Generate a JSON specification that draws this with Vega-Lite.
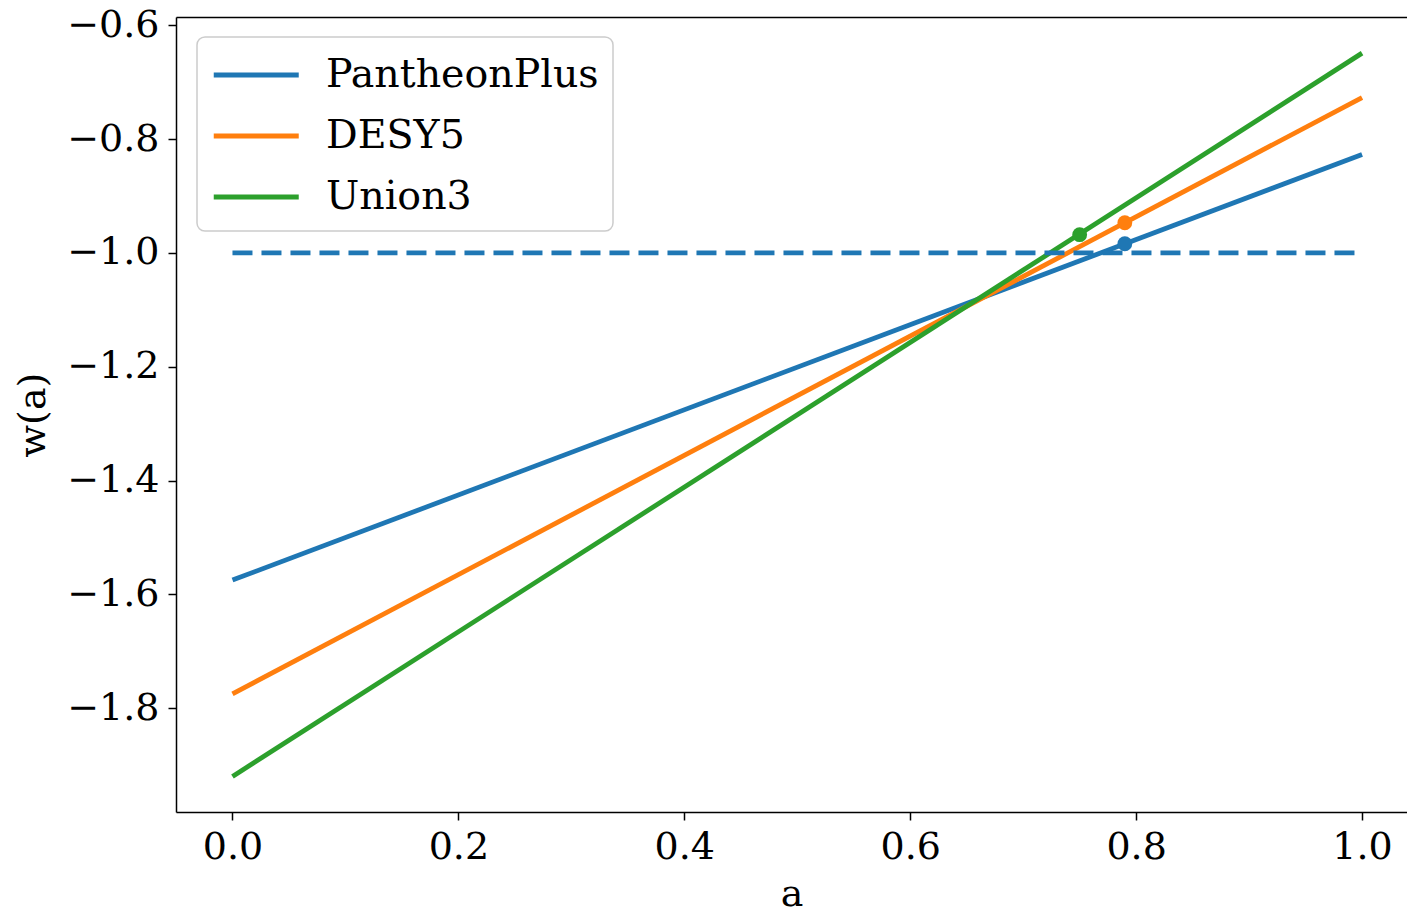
{
  "$schema": "https://vega.github.io/schema/vega-lite/v6.json",
  "width": 1231,
  "height": 795,
  "autosize": {"type": "none"},
  "padding": {"left": 176, "top": 17, "right": 0, "bottom": 101},
  "background": "white",
  "config": {
    "view": {"stroke": null},
    "font": "DejaVu Serif",
    "axis": {
      "grid": false,
      "domainColor": "black",
      "domainWidth": 1.5,
      "tickColor": "black",
      "tickWidth": 1.5,
      "tickSize": 8,
      "labelFont": "DejaVu Serif",
      "labelFontSize": 38,
      "labelColor": "black",
      "titleFont": "DejaVu Serif",
      "titleFontSize": 38,
      "titleFontWeight": "normal",
      "titleColor": "black"
    },
    "legend": {
      "orient": "none",
      "legendX": 21,
      "legendY": 20,
      "padding": 14,
      "strokeColor": "#cccccc",
      "strokeWidth": 1.5,
      "cornerRadius": 8,
      "fillColor": "rgba(255,255,255,0.8)",
      "labelFont": "DejaVu Serif",
      "labelFontSize": 39.5,
      "labelColor": "black",
      "labelLimit": 0,
      "labelOffset": 67,
      "rowPadding": 17,
      "symbolType": "M-1,0H3",
      "symbolSize": 1806,
      "symbolStrokeWidth": 4.8
    }
  },
  "datasets": {
    "fits": [
      {"dataset": "PantheonPlus", "a": 0, "w": -1.575},
      {"dataset": "PantheonPlus", "a": 1, "w": -0.827},
      {"dataset": "DESY5", "a": 0, "w": -1.775},
      {"dataset": "DESY5", "a": 1, "w": -0.727},
      {"dataset": "Union3", "a": 0, "w": -1.92},
      {"dataset": "Union3", "a": 1, "w": -0.649}
    ],
    "lambda": [
      {"a": 0, "w": -1.0},
      {"a": 1, "w": -1.0}
    ],
    "today": [
      {"dataset": "PantheonPlus", "a": 0.79, "w": -0.984},
      {"dataset": "DESY5", "a": 0.79, "w": -0.947},
      {"dataset": "Union3", "a": 0.75, "w": -0.968}
    ]
  },
  "resolve": {"axis": {"x": "independent"}},
  "layer": [
    {
      "layer": [
        {
          "data": {"name": "fits"},
          "mark": {"type": "line", "strokeWidth": 4.8, "strokeCap": "butt"},
          "encoding": {
            "x": {
              "field": "a", "type": "quantitative",
              "scale": {"domain": [-0.05, 1.0398], "nice": false, "zero": false},
              "axis": {"values": [0, 0.2, 0.4, 0.6, 0.8, 1.0], "format": ".1f", "title": "a", "labelPadding": 8, "titlePadding": 9}
            },
            "y": {
              "field": "w", "type": "quantitative",
              "scale": {"domain": [-1.9825, -0.5855], "nice": false, "zero": false},
              "axis": {"values": [-1.8, -1.6, -1.4, -1.2, -1.0, -0.8, -0.6], "format": ".1f", "title": "w(a)", "labelPadding": 9, "titlePadding": 14}
            },
            "color": {
              "field": "dataset", "type": "nominal",
              "scale": {"domain": ["PantheonPlus", "DESY5", "Union3"], "range": ["#1f77b4", "#ff7f0e", "#2ca02c"]},
              "legend": {"title": null}
            },
            "detail": {"field": "dataset"}
          }
        },
        {
          "data": {"name": "lambda"},
          "mark": {"type": "line", "strokeWidth": 4.8, "strokeDash": [20, 9], "color": "#1f77b4", "strokeCap": "butt"},
          "encoding": {
            "x": {"field": "a", "type": "quantitative"},
            "y": {"field": "w", "type": "quantitative"}
          }
        },
        {
          "data": {"name": "today"},
          "mark": {"type": "circle", "size": 220, "opacity": 1},
          "encoding": {
            "x": {"field": "a", "type": "quantitative"},
            "y": {"field": "w", "type": "quantitative"},
            "color": {"field": "dataset", "type": "nominal", "legend": null}
          }
        }
      ]
    },
    {
      "data": {"name": "lambda"},
      "mark": {"type": "point", "opacity": 0},
      "encoding": {
        "x": {
          "field": "a", "type": "quantitative",
          "axis": {"orient": "top", "labels": false, "ticks": false, "title": null, "domain": true}
        },
        "y": {"field": "w", "type": "quantitative"}
      }
    }
  ]
}
